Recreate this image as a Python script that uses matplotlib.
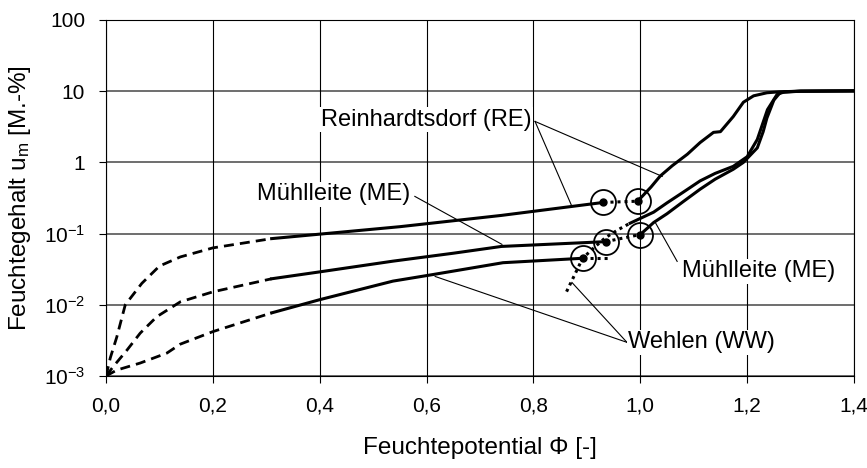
import numpy as np
import matplotlib
matplotlib.use("Agg")
import matplotlib.pyplot as plt

plt.rcParams['font.family'] = ['Liberation Sans', 'DejaVu Sans']
plt.rcParams['mathtext.fontset'] = 'custom'
plt.rcParams['mathtext.rm'] = 'Liberation Sans'
plt.rcParams['mathtext.it'] = 'Liberation Sans:italic'

# extrapolierte Abschnitte (gestrichelt)
re_ext_x = [0, 0.008, 0.02, 0.036, 0.067, 0.1, 0.139, 0.2, 0.31]
re_ext_y = [0.001, 0.0018, 0.0035, 0.01, 0.02, 0.035, 0.047, 0.063, 0.085]
me_ext_x = [0, 0.013, 0.039, 0.064, 0.095, 0.139, 0.2, 0.31]
me_ext_y = [0.001, 0.00134, 0.0023, 0.004, 0.0068, 0.011, 0.0152, 0.0232]
ww_ext_x = [0, 0.02, 0.064, 0.114, 0.139, 0.2, 0.31]
ww_ext_y = [0.001, 0.00121, 0.00152, 0.0021, 0.0028, 0.0042, 0.0077]

# angepasste Abschnitte (durchgezogen)
re_fit_x = [0.31, 0.55, 0.74, 0.931]
re_fit_y = [0.085, 0.125, 0.18, 0.274]
me_fit_x = [0.31, 0.4, 0.537, 0.65, 0.74, 0.935]
me_fit_y = [0.0232, 0.029, 0.041, 0.053, 0.066, 0.077]
ww_fit_x = [0.31, 0.4, 0.537, 0.612, 0.743, 0.892]
ww_fit_y = [0.0077, 0.0118, 0.0215, 0.0266, 0.039, 0.045]

# Übergangspunkte (Kreise) und Verbindungen (punktiert)
re_link_x = [0.931, 0.995]
re_link_y = [0.274, 0.285]
me_link_x = [0.935, 1.0]
me_link_y = [0.077, 0.097]
ww_link_x = [0.892, 0.944]
ww_link_y = [0.045, 0.045]

# gemessene Sorptionsisothermen
re_mes_x = [0.995, 1.02, 1.037, 1.06, 1.088, 1.112, 1.137, 1.15, 1.174, 1.193, 1.212, 1.237, 1.26, 1.3, 1.4]
re_mes_y = [0.285, 0.45, 0.64, 0.9, 1.3, 1.9, 2.64, 2.7, 4.4, 7.0, 8.6, 9.5, 9.8, 10.0, 10.1]
me_mes_x = [1.0, 1.025, 1.05, 1.08, 1.112, 1.14, 1.174, 1.193, 1.219, 1.23, 1.237, 1.25, 1.262, 1.3, 1.4]
me_mes_y = [0.097, 0.143, 0.19, 0.28, 0.42, 0.58, 0.8, 1.0, 1.6, 2.7, 4.2, 7.5, 9.6, 10.0, 10.1]
ww_dot_x = [0.862, 0.892, 0.915, 0.935, 0.96, 0.981]
ww_dot_y = [0.0153, 0.045, 0.065, 0.088, 0.115, 0.14]
ww_mes_x = [0.981, 1.025, 1.05, 1.08, 1.112, 1.14, 1.174, 1.2, 1.219, 1.238, 1.256, 1.27, 1.3, 1.4]
ww_mes_y = [0.14, 0.2, 0.27, 0.38, 0.55, 0.7, 0.88, 1.2, 2.1, 5.5, 9.0, 9.8, 10.0, 10.1]

x_ticks = [0, 0.2, 0.4, 0.6, 0.8, 1.0, 1.2, 1.4]
x_labels = ["0,0", "0,2", "0,4", "0,6", "0,8", "1,0", "1,2", "1,4"]
y_ticks = [0.001, 0.01, 0.1, 1, 10, 100]
y_labels = [r"$\mathregular{10^{-3}}$", r"$\mathregular{10^{-2}}$", r"$\mathregular{10^{-1}}$", "1", "10", "100"]

fig = plt.figure(figsize=(8.67, 4.68), dpi=100)
ax = fig.add_axes([0.1223, 0.1966, 0.985 - 0.1223, 0.9573 - 0.1966])
ax.set_yscale('log')
ax.set_xlim(0, 1.4)
ax.set_ylim(0.001, 100)

# Gitter
for yt in y_ticks:
    ax.axhline(yt, color='#555555', lw=1.2, zorder=0)
for xt in x_ticks:
    ax.axvline(xt, color='black', lw=0.8, zorder=0)

lw = 2.2
dash = (0, (3.6, 2.2))
dots = (0, (1, 1.3))
for ex, ey in [(re_ext_x, re_ext_y), (me_ext_x, me_ext_y), (ww_ext_x, ww_ext_y)]:
    ax.plot(ex, ey, color='black', lw=2, linestyle=dash, zorder=3)
for fx, fy in [(re_fit_x, re_fit_y), (me_fit_x, me_fit_y), (ww_fit_x, ww_fit_y)]:
    ax.plot(fx, fy, color='black', lw=lw, zorder=3)
for lx, ly in [(re_link_x, re_link_y), (me_link_x, me_link_y), (ww_link_x, ww_link_y)]:
    ax.plot(lx, ly, color='black', lw=lw, linestyle=dots, zorder=3)
ax.plot(ww_dot_x, ww_dot_y, color='black', lw=lw, linestyle=dots, zorder=3)
for mx, my in [(re_mes_x, re_mes_y), (me_mes_x, me_mes_y), (ww_mes_x, ww_mes_y)]:
    ax.plot(mx, my, color='black', lw=lw, zorder=3)

circ_x = [re_link_x[0], re_link_x[1], me_link_x[0], me_link_x[1], ww_link_x[0]]
circ_y = [re_link_y[0], re_link_y[1], me_link_y[0], me_link_y[1], ww_link_y[0]]
ax.plot(circ_x, circ_y, 'o', ms=18, mfc='none', mec='black', mew=1.3, zorder=4)
ax.plot(circ_x, circ_y, 'o', ms=5, color='black', zorder=4)

# Beschriftungen mit Hinweislinien
tbox = dict(facecolor='white', edgecolor='none', pad=1)
fs = 17
ax.text(0.402, 4.0, "Reinhardtsdorf (RE)", fontsize=fs, ha='left', va='center', bbox=tbox, zorder=5)
ax.plot([0.803, 0.872], [3.76, 0.241], color='black', lw=0.8, zorder=2)
ax.plot([0.803, 1.041], [3.76, 0.636], color='black', lw=0.8, zorder=2)

ax.text(0.283, 0.355, "Mühlleite (ME)", fontsize=fs, ha='left', va='center', bbox=tbox, zorder=5)
ax.plot([0.578, 0.741], [0.333, 0.0706], color='black', lw=0.8, zorder=2)

ax.text(1.078, 0.0294, "Mühlleite (ME)", fontsize=fs, ha='left', va='center', bbox=tbox, zorder=5)
ax.plot([1.069, 1.027], [0.0407, 0.148], color='black', lw=0.8, zorder=2)

ax.text(0.977, 0.00297, "Wehlen (WW)", fontsize=fs, ha='left', va='center', bbox=tbox, zorder=5)
ax.plot([0.975, 0.616], [0.00297, 0.025], color='black', lw=0.8, zorder=2)
ax.plot([0.975, 0.872], [0.00297, 0.0206], color='black', lw=0.8, zorder=2)

ax.set_xticks(x_ticks)
ax.set_xticklabels(x_labels, fontsize=15)
ax.set_yticks(y_ticks)
ax.set_yticklabels(y_labels, fontsize=15)
ax.minorticks_off()
ax.tick_params(direction='out', length=5, width=0.8, pad=10)
for s in ax.spines.values():
    s.set_linewidth(0.8)

ax.set_xlabel("Feuchtepotential Φ [-]", fontsize=17.5, labelpad=15)
ax.set_ylabel(r"Feuchtegehalt u$_\mathregular{m}$ [M.-%]", fontsize=17.5, labelpad=8)

fig.savefig("out.png", dpi=100)
